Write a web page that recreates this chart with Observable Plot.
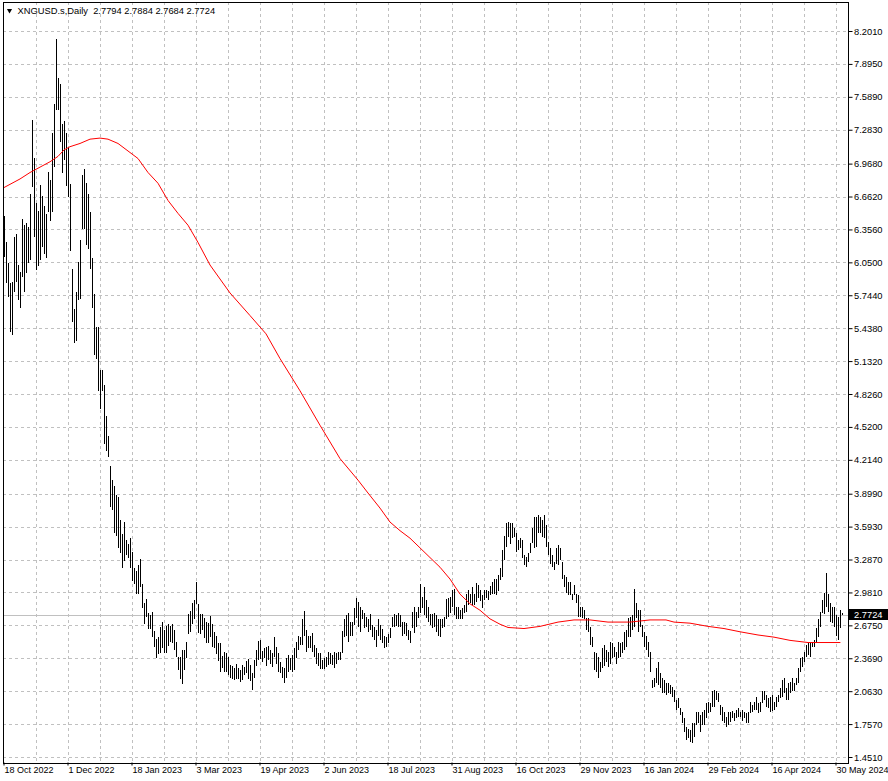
<!DOCTYPE html>
<html>
<head>
<meta charset="utf-8">
<script src="https://cdn.jsdelivr.net/npm/d3@7"></script>
<script src="https://cdn.jsdelivr.net/npm/@observablehq/plot@0.6"></script>
<style>
  html, body { margin: 0; padding: 0; background: #ffffff; }
  #chart { width: 888px; height: 781px; overflow: hidden; }
</style>
</head>
<body>
<div id="chart"></div>
<script>
// ---- data (XNGUSD.s, Daily, bar index 0 = 18 Oct 2022) ----
const symbolTitle = "XNGUSD.s,Daily";
const lastOHLC = [2.7794, 2.7884, 2.7684, 2.7724];
const lastClose = 2.7724;

const highs = [
  6.48,6.24,6.04,5.86,5.87,6.29,6.31,6.03,5.96,6.45,
  6.40,6.42,6.38,6.69,7.37,7.02,6.60,6.53,6.77,6.67,
  6.57,6.50,6.89,6.82,7.25,7.52,8.13,7.76,7.71,7.34,
  7.36,7.25,7.12,6.78,5.99,5.62,5.77,6.05,6.26,6.86,
  6.92,6.79,6.69,6.52,6.09,5.76,5.45,5.45,5.05,5.05,
  4.91,4.62,4.44,4.16,4.03,3.97,3.89,3.87,3.65,3.52,
  3.64,3.47,3.43,3.49,3.36,3.21,3.18,3.24,3.29,3.06,
  2.88,2.92,2.79,2.77,2.80,2.62,2.55,2.57,2.66,2.71,
  2.63,2.67,2.69,2.67,2.69,2.63,2.52,2.38,2.38,2.45,
  2.45,2.52,2.78,2.81,2.88,2.91,3.08,2.87,2.78,2.78,
  2.74,2.71,2.70,2.76,2.69,2.61,2.58,2.51,2.51,2.39,
  2.43,2.42,2.38,2.31,2.30,2.28,2.32,2.28,2.26,2.31,
  2.29,2.34,2.36,2.31,2.23,2.35,2.45,2.53,2.54,2.44,
  2.46,2.47,2.48,2.45,2.42,2.57,2.47,2.42,2.33,2.29,
  2.28,2.37,2.40,2.37,2.40,2.46,2.52,2.58,2.57,2.73,
  2.81,2.63,2.58,2.58,2.60,2.49,2.46,2.42,2.42,2.35,
  2.37,2.38,2.43,2.42,2.40,2.43,2.42,2.43,2.43,2.62,
  2.73,2.77,2.79,2.71,2.71,2.84,2.93,2.89,2.85,2.82,
  2.79,2.75,2.73,2.78,2.68,2.66,2.63,2.73,2.68,2.64,
  2.58,2.57,2.59,2.65,2.75,2.78,2.77,2.79,2.77,2.71,
  2.71,2.70,2.63,2.62,2.80,2.85,2.80,2.85,3.06,2.94,
  3.03,2.91,2.85,2.78,2.78,2.79,2.77,2.73,2.73,2.73,
  2.75,2.92,2.93,2.94,3.00,3.01,2.85,2.85,2.82,2.84,
  2.86,2.97,3.00,2.97,3.03,2.97,3.07,3.05,3.00,2.96,
  3.00,3.00,2.99,3.04,3.08,3.11,3.11,3.14,3.21,3.38,
  3.51,3.63,3.64,3.63,3.63,3.58,3.53,3.47,3.49,3.47,
  3.33,3.31,3.35,3.44,3.58,3.68,3.68,3.70,3.68,3.65,
  3.70,3.61,3.45,3.39,3.33,3.26,3.39,3.42,3.39,3.26,
  3.14,3.12,3.08,3.08,2.97,3.05,2.97,2.96,2.85,2.85,
  2.82,2.74,2.74,2.66,2.57,2.43,2.42,2.38,2.33,2.46,
  2.49,2.45,2.43,2.52,2.51,2.47,2.43,2.52,2.51,2.52,
  2.61,2.63,2.74,2.75,2.77,3.01,2.88,2.82,2.82,2.68,
  2.61,2.58,2.52,2.43,2.17,2.19,2.28,2.33,2.23,2.19,
  2.17,2.14,2.14,2.12,2.10,2.07,1.98,2.00,1.91,1.87,
  1.81,1.73,1.71,1.70,1.77,1.77,1.87,1.87,1.84,1.87,
  1.89,1.95,1.96,1.95,2.06,2.07,2.06,2.05,1.93,1.92,
  1.87,1.82,1.87,1.87,1.88,1.86,1.89,1.91,1.87,1.89,
  1.87,1.86,1.87,1.96,1.93,1.96,2.01,1.95,1.96,2.06,
  2.06,2.03,2.00,2.01,2.03,1.96,2.01,2.03,2.09,2.17,
  2.19,2.09,2.14,2.15,2.19,2.14,2.19,2.28,2.37,2.38,
  2.43,2.49,2.51,2.52,2.52,2.54,2.65,2.73,2.80,2.91,
  2.98,3.16,2.97,2.88,2.85,2.85,2.77,2.75,2.82,2.7884
];

const lows = [
  6.10,5.86,5.73,5.40,5.37,5.77,5.87,5.70,5.63,5.91,
  5.77,5.95,6.04,6.07,6.75,6.29,5.98,6.02,6.07,6.19,
  6.13,6.09,6.52,6.43,6.52,6.94,7.47,7.47,7.17,6.88,
  7.00,6.76,6.66,6.16,5.50,5.30,5.32,5.70,5.71,6.36,
  6.36,6.21,6.17,5.99,5.63,5.19,5.15,4.85,4.69,4.85,
  4.36,4.30,4.24,3.78,3.75,3.53,3.51,3.39,3.35,3.21,
  3.27,3.33,3.30,3.21,3.09,3.06,2.97,2.97,3.03,2.84,
  2.69,2.75,2.64,2.64,2.57,2.47,2.37,2.41,2.42,2.46,
  2.42,2.42,2.48,2.52,2.51,2.45,2.38,2.26,2.18,2.13,
  2.26,2.37,2.59,2.61,2.69,2.73,2.87,2.60,2.59,2.63,
  2.56,2.51,2.51,2.57,2.47,2.46,2.41,2.34,2.24,2.28,
  2.24,2.24,2.21,2.19,2.18,2.17,2.18,2.18,2.15,2.17,
  2.21,2.23,2.18,2.16,2.07,2.19,2.30,2.35,2.36,2.33,
  2.37,2.30,2.35,2.32,2.29,2.38,2.32,2.24,2.23,2.19,
  2.14,2.19,2.24,2.26,2.24,2.26,2.37,2.45,2.49,2.49,
  2.58,2.43,2.46,2.46,2.43,2.38,2.32,2.30,2.27,2.27,
  2.27,2.29,2.31,2.32,2.31,2.28,2.32,2.35,2.35,2.42,
  2.57,2.58,2.52,2.58,2.58,2.68,2.74,2.66,2.61,2.73,
  2.65,2.66,2.61,2.63,2.57,2.54,2.47,2.58,2.54,2.51,
  2.46,2.47,2.51,2.56,2.66,2.66,2.67,2.66,2.66,2.58,
  2.59,2.58,2.54,2.51,2.65,2.60,2.66,2.74,2.79,2.84,
  2.77,2.74,2.71,2.68,2.65,2.66,2.61,2.58,2.57,2.65,
  2.66,2.73,2.75,2.79,2.85,2.77,2.73,2.73,2.73,2.73,
  2.79,2.80,2.86,2.88,2.86,2.86,2.89,2.93,2.90,2.84,
  2.91,2.93,2.91,2.96,2.97,2.97,2.96,2.99,3.10,3.12,
  3.28,3.40,3.50,3.43,3.49,3.50,3.36,3.38,3.39,3.30,
  3.24,3.22,3.26,3.35,3.44,3.39,3.40,3.53,3.53,3.50,
  3.49,3.40,3.33,3.25,3.22,3.19,3.25,3.24,3.28,3.11,
  3.03,2.98,2.96,2.96,2.91,2.96,2.88,2.75,2.75,2.74,
  2.73,2.63,2.61,2.49,2.47,2.26,2.24,2.19,2.24,2.28,
  2.30,2.33,2.29,2.32,2.37,2.38,2.32,2.37,2.38,2.42,
  2.45,2.47,2.57,2.57,2.63,2.66,2.74,2.61,2.66,2.57,
  2.47,2.45,2.38,2.24,2.09,2.10,2.14,2.12,2.09,2.05,
  2.05,2.03,2.05,2.04,2.01,1.96,1.89,1.91,1.84,1.77,
  1.68,1.61,1.63,1.59,1.58,1.64,1.75,1.77,1.68,1.75,
  1.75,1.81,1.86,1.87,1.92,1.92,1.98,1.96,1.84,1.79,
  1.77,1.73,1.75,1.78,1.81,1.79,1.81,1.82,1.82,1.79,
  1.81,1.77,1.77,1.86,1.87,1.89,1.89,1.86,1.87,1.95,
  1.98,1.92,1.91,1.87,1.88,1.89,1.92,1.96,2.00,2.01,
  2.05,1.98,1.98,2.05,2.06,2.06,2.12,2.14,2.24,2.29,
  2.33,2.38,2.40,2.38,2.47,2.47,2.51,2.57,2.66,2.79,
  2.78,2.85,2.80,2.71,2.70,2.66,2.58,2.54,2.65,2.7684
];

// moving average (red line), read at these bar indices
const maIdx = [0,3,8,13,18,23,27,30,33,38,43,48,52,57,62,67,72,77,82,87,92,97,103,113,123,131,138,148,158,168,177,182,188,193,198,203,208,213,218,223,228,233,238,243,248,252,260,268,277,285,293,302,307,313,323,331,335,343,352,360,368,377,385,393,402,418];
const maVal = [6.75,6.78,6.83,6.89,6.94,6.99,7.04,7.10,7.13,7.16,7.20,7.21,7.20,7.16,7.09,7.02,6.89,6.79,6.63,6.51,6.40,6.24,6.03,5.77,5.56,5.39,5.16,4.86,4.54,4.23,4.03,3.91,3.77,3.64,3.56,3.49,3.40,3.31,3.22,3.11,2.97,2.88,2.82,2.74,2.69,2.66,2.65,2.67,2.71,2.73,2.73,2.71,2.71,2.71,2.73,2.73,2.71,2.70,2.67,2.65,2.62,2.59,2.57,2.54,2.52,2.52];

// price-scale labels
const yTicks = [8.2010,7.8950,7.5890,7.2830,6.9680,6.6620,6.3560,6.0500,5.7440,5.4380,5.1320,4.8260,4.5200,4.2140,3.8990,3.5930,3.2870,2.9810,2.6750,2.3690,2.0630,1.7570,1.4510];

// time-scale labels (every 32 bars)
const dateLabels = ["18 Oct 2022","1 Dec 2022","18 Jan 2023","3 Mar 2023","19 Apr 2023","2 Jun 2023","18 Jul 2023","31 Aug 2023","16 Oct 2023","29 Nov 2023","16 Jan 2024","29 Feb 2024","16 Apr 2024","30 May 2024"];
const labelIdx = dateLabels.map((_, k) => k * 32);
const gridIdx = d3.range(16, 420, 16);

// ---- tables for the library ----
const bars = highs.map((h, i) => ({i, high: h, low: lows[i]}));
const ma = maIdx.map((i, k) => ({i, v: maVal[k]}));

const GRID = "#c0c0c0";

function priceBox(index, scales, values, dimensions) {
  const y = Math.round(scales.y(lastClose));
  const g = d3.create("svg:g");
  g.append("rect")
    .attr("x", dimensions.width - dimensions.marginRight + 0.5)
    .attr("y", y - 6)
    .attr("width", 40)
    .attr("height", 11)
    .attr("fill", "black");
  return g.node();
}

const chart = Plot.plot({
  width: 888,
  height: 781,
  marginLeft: 2.5,
  marginRight: 40.5,
  marginTop: 1.5,
  marginBottom: 18.5,
  style: {fontFamily: "'Liberation Sans', Arial, sans-serif", fontSize: "9.33px", background: "#ffffff", color: "#000000"},
  x: {type: "linear", domain: [0, 419], range: [3.5, 841.5], axis: null},
  y: {type: "linear", domain: [1.451, 8.201], range: [757, 31], axis: null},
  marks: [
    Plot.ruleY(yTicks, {stroke: GRID, strokeDasharray: "3,3", shapeRendering: "crispEdges"}),
    Plot.ruleX(gridIdx, {stroke: GRID, strokeDasharray: "3,3", shapeRendering: "crispEdges"}),
    Plot.ruleY([lastClose], {stroke: GRID, shapeRendering: "crispEdges"}),
    Plot.ruleX(bars, {x: "i", y1: "low", y2: "high", stroke: "#000000", strokeWidth: 1, shapeRendering: "crispEdges"}),
    Plot.line(ma, {x: "i", y: "v", stroke: "#ff0000", strokeWidth: 1}),
    Plot.frame({stroke: "#000000", shapeRendering: "crispEdges"}),
    Plot.axisY({anchor: "right", ticks: yTicks, tickFormat: d => d.toFixed(4), tickSize: 4, tickPadding: 2, label: null}),
    Plot.axisX({anchor: "bottom", ticks: labelIdx, tickFormat: () => "", tickSize: 3, label: null}),
    Plot.axisX({anchor: "bottom", ticks: labelIdx, tickFormat: d => dateLabels[labelIdx.indexOf(d)], tickSize: 0, tickPadding: 4, textAnchor: "start", dx: 0.5, fontSize: 9, label: null}),
    priceBox,
    Plot.text([lastClose], {y: d => d, frameAnchor: "right", dx: 6, textAnchor: "start", fill: "#ffffff", text: d => d.toFixed(4)}),
    Plot.dot([0], {frameAnchor: "top-left", dx: 6.5, dy: 8.5, symbol: "triangle", r: 1.9, fill: "#000000", stroke: "none", rotate: 180}),
    Plot.text([symbolTitle + "\u00a0\u00a0" + lastOHLC.map(v => v.toFixed(4)).join(" ")], {frameAnchor: "top-left", dx: 14.5, dy: 5.5, textAnchor: "start", lineAnchor: "top", fill: "#000000"})
  ]
});

document.getElementById("chart").appendChild(chart);
</script>
</body>
</html>
